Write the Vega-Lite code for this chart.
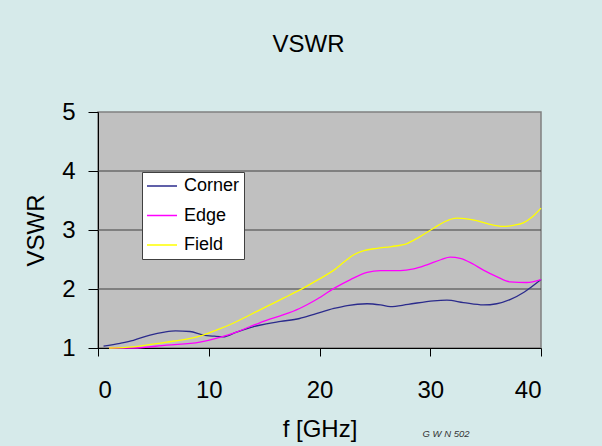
{
  "$schema": "https://vega.github.io/schema/vega-lite/v6.json",
  "width": 443,
  "height": 236,
  "autosize": {"type": "none"},
  "padding": {"left": 98, "top": 112, "right": 61, "bottom": 98},
  "background": "#d6eaea",
  "title": {
    "text": "VSWR",
    "font": "Liberation Sans",
    "fontSize": 24,
    "fontWeight": "normal",
    "color": "#000000",
    "offset": 43,
    "dx": -11
  },
  "config": {
    "view": {"fill": "#c0c0c0", "stroke": "#808080", "strokeWidth": 1.5},
    "axis": {
      "labelFont": "Liberation Sans",
      "titleFont": "Liberation Sans",
      "labelFontSize": 24,
      "titleFontSize": 24,
      "titleFontWeight": "normal",
      "labelColor": "#000000",
      "titleColor": "#000000",
      "domainColor": "#000000",
      "tickColor": "#000000",
      "grid": false
    }
  },
  "data": {
    "values": [
      {"f": 0.5, "v": 1.03, "s": "Corner"},
      {"f": 2, "v": 1.08, "s": "Corner"},
      {"f": 3.2, "v": 1.13, "s": "Corner"},
      {"f": 4.7, "v": 1.22, "s": "Corner"},
      {"f": 6, "v": 1.27, "s": "Corner"},
      {"f": 7, "v": 1.29, "s": "Corner"},
      {"f": 8.3, "v": 1.28, "s": "Corner"},
      {"f": 9.5, "v": 1.22, "s": "Corner"},
      {"f": 10.5, "v": 1.2, "s": "Corner"},
      {"f": 11.3, "v": 1.19, "s": "Corner"},
      {"f": 12.5, "v": 1.27, "s": "Corner"},
      {"f": 14, "v": 1.36, "s": "Corner"},
      {"f": 15.2, "v": 1.41, "s": "Corner"},
      {"f": 16.5, "v": 1.45, "s": "Corner"},
      {"f": 18.2, "v": 1.5, "s": "Corner"},
      {"f": 19.5, "v": 1.57, "s": "Corner"},
      {"f": 21.3, "v": 1.67, "s": "Corner"},
      {"f": 22.5, "v": 1.72, "s": "Corner"},
      {"f": 24.3, "v": 1.75, "s": "Corner"},
      {"f": 25.5, "v": 1.73, "s": "Corner"},
      {"f": 26.4, "v": 1.7, "s": "Corner"},
      {"f": 28, "v": 1.74, "s": "Corner"},
      {"f": 30.3, "v": 1.8, "s": "Corner"},
      {"f": 31.5, "v": 1.81, "s": "Corner"},
      {"f": 33, "v": 1.77, "s": "Corner"},
      {"f": 34.8, "v": 1.73, "s": "Corner"},
      {"f": 36, "v": 1.75, "s": "Corner"},
      {"f": 37.2, "v": 1.82, "s": "Corner"},
      {"f": 38.5, "v": 1.95, "s": "Corner"},
      {"f": 40, "v": 2.16, "s": "Corner"},
      {"f": 1, "v": 1.0, "s": "Edge"},
      {"f": 3.2, "v": 1.0, "s": "Edge"},
      {"f": 6.2, "v": 1.05, "s": "Edge"},
      {"f": 9.2, "v": 1.1, "s": "Edge"},
      {"f": 11, "v": 1.18, "s": "Edge"},
      {"f": 12.5, "v": 1.27, "s": "Edge"},
      {"f": 13.7, "v": 1.36, "s": "Edge"},
      {"f": 15.2, "v": 1.47, "s": "Edge"},
      {"f": 16.7, "v": 1.56, "s": "Edge"},
      {"f": 18.2, "v": 1.67, "s": "Edge"},
      {"f": 19.8, "v": 1.83, "s": "Edge"},
      {"f": 21.3, "v": 2.01, "s": "Edge"},
      {"f": 22.8, "v": 2.16, "s": "Edge"},
      {"f": 24.3, "v": 2.28, "s": "Edge"},
      {"f": 25.5, "v": 2.31, "s": "Edge"},
      {"f": 27.3, "v": 2.31, "s": "Edge"},
      {"f": 28.5, "v": 2.34, "s": "Edge"},
      {"f": 29.7, "v": 2.41, "s": "Edge"},
      {"f": 31, "v": 2.5, "s": "Edge"},
      {"f": 31.8, "v": 2.54, "s": "Edge"},
      {"f": 32.7, "v": 2.52, "s": "Edge"},
      {"f": 33.8, "v": 2.43, "s": "Edge"},
      {"f": 34.8, "v": 2.32, "s": "Edge"},
      {"f": 36, "v": 2.21, "s": "Edge"},
      {"f": 37.2, "v": 2.12, "s": "Edge"},
      {"f": 38.7, "v": 2.11, "s": "Edge"},
      {"f": 40, "v": 2.16, "s": "Edge"},
      {"f": 1, "v": 1.0, "s": "Field"},
      {"f": 3.2, "v": 1.02, "s": "Field"},
      {"f": 6.2, "v": 1.1, "s": "Field"},
      {"f": 8, "v": 1.15, "s": "Field"},
      {"f": 9.5, "v": 1.22, "s": "Field"},
      {"f": 10.8, "v": 1.31, "s": "Field"},
      {"f": 12.2, "v": 1.42, "s": "Field"},
      {"f": 13.7, "v": 1.56, "s": "Field"},
      {"f": 15.2, "v": 1.7, "s": "Field"},
      {"f": 16.7, "v": 1.84, "s": "Field"},
      {"f": 18.2, "v": 1.98, "s": "Field"},
      {"f": 19.8, "v": 2.15, "s": "Field"},
      {"f": 21.3, "v": 2.32, "s": "Field"},
      {"f": 22.3, "v": 2.47, "s": "Field"},
      {"f": 23.1, "v": 2.58, "s": "Field"},
      {"f": 24, "v": 2.65, "s": "Field"},
      {"f": 25.2, "v": 2.69, "s": "Field"},
      {"f": 26.5, "v": 2.72, "s": "Field"},
      {"f": 27.9, "v": 2.77, "s": "Field"},
      {"f": 29, "v": 2.88, "s": "Field"},
      {"f": 30.3, "v": 3.03, "s": "Field"},
      {"f": 31.3, "v": 3.14, "s": "Field"},
      {"f": 32.4, "v": 3.2, "s": "Field"},
      {"f": 33.3, "v": 3.19, "s": "Field"},
      {"f": 34.2, "v": 3.16, "s": "Field"},
      {"f": 35.3, "v": 3.1, "s": "Field"},
      {"f": 36.6, "v": 3.06, "s": "Field"},
      {"f": 37.5, "v": 3.08, "s": "Field"},
      {"f": 38.4, "v": 3.12, "s": "Field"},
      {"f": 39.2, "v": 3.22, "s": "Field"},
      {"f": 40, "v": 3.37, "s": "Field"}
    ]
  },
  "layer": [
    {
      "mark": {"type": "rule", "color": "#404040", "strokeWidth": 1.2},
      "data": {"values": [{"g": 2}, {"g": 3}, {"g": 4}]},
      "encoding": {
        "y": {"field": "g", "type": "quantitative", "scale": {"domain": [1, 5]}}
      }
    },
    {
      "mark": {"type": "line", "strokeWidth": 1.3, "interpolate": "monotone"},
      "encoding": {
        "x": {
          "field": "f", "type": "quantitative",
          "scale": {"domain": [0, 40], "nice": false},
          "axis": {"values": [0, 10, 20, 30, 40], "format": "d", "title": "f [GHz]", "tickSize": 8, "labelPadding": 22, "titlePadding": 15}
        },
        "y": {
          "field": "v", "type": "quantitative",
          "scale": {"domain": [1, 5], "nice": false, "zero": false},
          "axis": {"values": [1, 2, 3, 4, 5], "format": "d", "title": "VSWR", "tickSize": 10, "labelPadding": 13, "titlePadding": 13}
        },
        "color": {
          "field": "s", "type": "nominal",
          "scale": {"domain": ["Corner", "Edge", "Field"], "range": ["#2b2b8c", "#ff00ff", "#ffff00"]},
          "legend": {
            "title": null,
            "orient": "none",
            "legendX": 44,
            "legendY": 60,
            "fillColor": "#ffffff",
            "strokeColor": "#404040",
            "padding": 4,
            "symbolType": "stroke",
            "symbolSize": 900,
            "symbolStrokeWidth": 1.5,
            "clipHeight": 20,
            "labelFont": "Liberation Sans",
            "labelFontSize": 18,
            "labelColor": "#000000",
            "rowPadding": 9.5,
            "labelOffset": 6
          }
        }
      }
    },
    {
      "mark": {"type": "text", "font": "Liberation Sans", "fontSize": 9.5, "fontStyle": "italic", "color": "#333333", "align": "left"},
      "data": {"values": [{"t": "G W N 502"}]},
      "encoding": {
        "x": {"datum": 29.3, "type": "quantitative"},
        "y": {"datum": -0.46, "type": "quantitative"},
        "text": {"field": "t"}
      }
    }
  ]
}
